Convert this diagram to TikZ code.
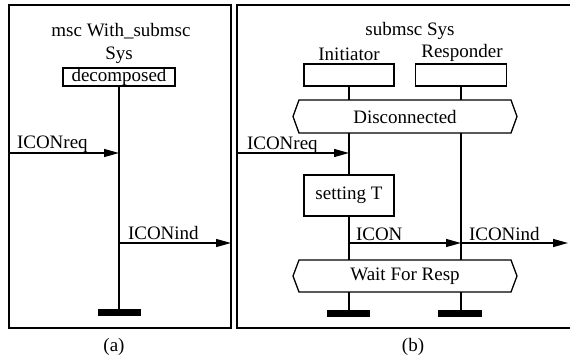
\documentclass[tikz,border=0pt]{standalone}
\usepackage{fontspec}
\setmainfont{Liberation Serif}
\usetikzlibrary{arrows.meta}
\begin{document}
\begin{tikzpicture}[x=1pt,y=-1pt,
  every node/.style={font=\fontsize{19}{22}\selectfont, inner sep=0pt, outer sep=0pt},
  ln/.style={line width=1.3pt},
  frm/.style={line width=1.2pt},
  instbox/.style={draw, line width=1.3pt, minimum width=90pt, minimum height=22pt},
  endbar/.style={fill=black, minimum width=43pt, minimum height=7pt},
  cond/.style={minimum width=212pt},
  msg/.style={line width=1.3pt, -{Triangle[length=15pt,width=8pt]}},
  lbl/.style={anchor=base west}
]
\useasboundingbox (0,0) rectangle (570,360);
\fill[white] (0,0) rectangle (570,360);

% ---------- (a) ----------
\node[draw, frm, minimum width=222pt, minimum height=323pt, anchor=north west] (frameA) at (9,5) {};
\node[anchor=base] (titleA) at (121,36) {msc With\_submsc};
\node[anchor=base] (sysA) at (119,59) {Sys};
\node[draw, ln, minimum width=112pt, minimum height=18pt] (decA) at (119,77) {decomposed};
\node[endbar] (endA) at (119,312.5) {};
\draw[ln] (decA.south) -- (endA.north);
\coordinate (inA) at (9,153);
\draw[msg] (inA) -- (inA -| decA.south);
\node[lbl] (lreqA) at (17,148) {ICONreq};
\coordinate (outA) at (231,243);
\draw[msg] (outA -| decA.south) -- (outA);
\node[lbl] (lindA) at (128,239) {ICONind};
\node (capA) at (114,347) {(a)};

% ---------- (b) ----------
\draw[frm] (570,5) -- (237,5) -- (237,328) -- (570,328);
\coordinate (inB) at (237,153);
\node[anchor=base] (titleB) at (410,35) {submsc Sys};
\node[anchor=base] (iniL) at (349,60) {Initiator};
\node[anchor=base] (resL) at (462,57) {Responder};
\node[instbox] (ini) at (349,75) {};
\node[instbox, minimum width=91pt] (res) at (461,75) {};

\node[cond, minimum height=33pt] (disc) at (405,116.5) {Disconnected};
\draw[ln] (disc.north west) -- (disc.north east) -- ([xshift=6pt]disc.east) -- (disc.south east) -- (disc.south west) -- ([xshift=-6pt]disc.west) -- cycle;

\node[draw, ln, minimum width=90pt, minimum height=41pt] (set) at (349,195.5) {setting T};

\node[cond, minimum height=32pt] (wait) at (405,276) {Wait For Resp};
\draw[ln] (wait.north west) -- (wait.north east) -- ([xshift=6pt]wait.east) -- (wait.south east) -- (wait.south west) -- ([xshift=-6pt]wait.west) -- cycle;

\node[endbar] (endI) at (348.5,313.5) {};
\node[endbar, minimum width=44pt] (endR) at (460,313.5) {};

% lifelines
\draw[ln] (ini.south) -- (ini.south |- disc.north);
\draw[ln] (res.south) -- (res.south |- disc.north);
\draw[ln] (disc.south -| ini.south) -- (set.north);
\draw[ln] (set.south) -- (set.south |- wait.north);
\draw[ln] (disc.south -| res.south) -- (wait.north -| res.south);
\draw[ln] (wait.south -| ini.south) -- (endI.north -| ini.south);
\draw[ln] (wait.south -| res.south) -- (endR.north -| res.south);

% messages
\draw[msg] (inB) -- (inB -| ini.south);
\node[lbl] (lreqB) at (247,149) {ICONreq};
\coordinate (mY) at (349,243);
\draw[msg] (mY) -- (mY -| res.south);
\node[lbl] (liconB) at (356,240) {ICON};
\coordinate (outB) at (568,243);
\draw[msg] (outB -| res.south) -- (outB);
\node[lbl] (lindB) at (469,240) {ICONind};
\node (capB) at (413,347) {(b)};
\end{tikzpicture}
\end{document}
